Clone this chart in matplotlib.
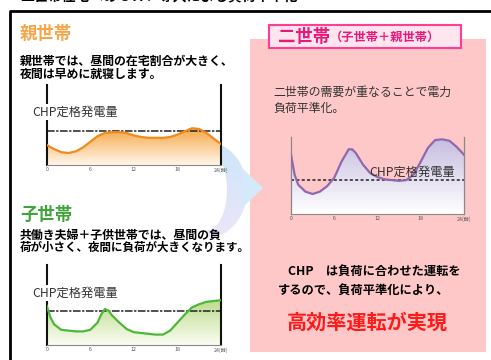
import numpy as np
import matplotlib
matplotlib.use("Agg")
import matplotlib.pyplot as plt
from matplotlib.patches import Polygon, Rectangle
from matplotlib.colors import to_rgb

plt.rcParams['font.family'] = ['Noto Sans CJK JP', 'DejaVu Sans']

W, H = 491, 360

# ---------------- data ----------------
tick_hours = [0, 6, 12, 18, 24]
tick_labels = ["0", "6", "12", "18", "24(時)"]

hours_parent = [0, 1, 2, 3, 4, 5, 6, 7, 8, 9, 10, 11, 12, 13, 14, 15, 16, 17, 18, 19, 20, 21, 22, 23, 24]
load_parent = [25, 20, 16, 15, 17, 22, 29, 36, 40, 41, 41, 40, 37, 35, 34, 34, 34, 35, 38, 42, 46, 45, 40, 33, 26]
chp_parent = 43

hours_child = [0, 0.5, 1, 2, 3, 4, 5, 6, 7, 7.5, 8, 8.5, 9, 10, 11, 12, 13, 14, 15, 16, 17, 18, 19, 20, 21, 22, 23, 24]
load_child = [49, 35, 26, 19, 18, 17, 17, 19, 28, 38, 45, 43, 37, 28, 20, 16, 15, 14, 13, 13, 18, 28, 38, 47, 51, 54, 55, 56]
chp_child = 42

hours_two = [0, 0.5, 1, 2, 3, 4, 5, 6, 7, 8, 8.5, 9, 10, 11, 12, 13, 14, 15, 16, 17, 18, 19, 20, 21, 22, 23, 24]
load_two = [77, 51, 38, 29, 26, 29, 36, 47, 68, 84, 84, 79, 64, 53, 48, 45, 44, 43, 44, 51, 68, 86, 96, 97, 95, 87, 77]
chp_two = 44

fig = plt.figure(figsize=(W / 100, H / 100), dpi=100)
fig.patch.set_facecolor('white')

# background axes in pixel coordinates
bg = fig.add_axes([0, 0, 1, 1])
bg.set_xlim(0, W)
bg.set_ylim(H, 0)
bg.axis('off')


def rect(x0, y0, x1, y1):
    return [x0 / W, 1 - y1 / H, (x1 - x0) / W, (y1 - y0) / H]


def gradient_img(c_top, c_bot, n=256):
    t = np.linspace(0, 1, n).reshape(-1, 1)
    a = np.array(to_rgb(c_top))
    b = np.array(to_rgb(c_bot))
    img = a[None, None, :] * (1 - t[:, :, None]) + b[None, None, :] * t[:, :, None]
    return img


# page title (cut off at the top edge, as in the reference)
bg.text(20, 3, "二世帯住宅へのＣＨＰ導入による負荷平準化", fontsize=10, fontweight='bold',
        va='bottom', ha='left', color='black')

# outer frame
bg.plot([10, 10, W + 5], [H + 5, 11, 11], color='black', lw=2, solid_capstyle='butt')

# pink panel
bg.add_patch(Rectangle((250, 39), 236, 313, facecolor='#FFC8C8', edgecolor='none', zorder=1))

# header box
bg.add_patch(Rectangle((269, 24.5), 192, 23.5, facecolor='#FFE6EE', edgecolor='#FF3C96', lw=1.5, zorder=2))
bg.text(278, 36.5, "二世帯", fontsize=12.5, fontweight='bold', color='#E8197A', va='center', ha='left', zorder=3)
bg.text(330, 37, "（子世帯＋親世帯）", fontsize=8.8, fontweight='bold', color='#E8197A', va='center', ha='left', zorder=3)

# curved arrow (gradient)
theta = np.linspace(-np.pi / 2, np.pi / 2, 60)
outer = np.column_stack([207 + 40 * np.cos(theta), 190 + 48 * np.sin(theta)])
inner = np.column_stack([207 + 20 * np.cos(theta[::-1]), 190 + 40 * np.sin(theta[::-1])])
cres = np.vstack([outer, inner])
cres_patch = Polygon(cres, closed=True, facecolor='none', edgecolor='none', zorder=2)
bg.add_patch(cres_patch)
im = bg.imshow(gradient_img('#CBE5FA', '#EEE6F8'), extent=[195, 265, 240, 140], aspect='auto', zorder=2)
im.set_clip_path(cres_patch)
head = Polygon([(242, 168), (263, 188), (242, 208)], closed=True, facecolor='#D4E9FA', edgecolor='none', zorder=2)
bg.add_patch(head)

# left headings & text
bg.text(20, 33.5, "親世帯", fontsize=12.5, fontweight='bold', color='#F7A548', va='center', ha='left')
bg.text(20, 61, "親世帯では、昼間の在宅割合が大きく、", fontsize=8.6, fontweight='bold', color='black', va='center', ha='left')
bg.text(20, 74, "夜間は早めに就寝します。", fontsize=8.6, fontweight='bold', color='black', va='center', ha='left')

bg.text(20, 215, "子世帯", fontsize=12.5, fontweight='bold', color='#3FA53A', va='center', ha='left')
bg.text(20, 235, "共働き夫婦＋子供世帯では、昼間の負", fontsize=8.6, fontweight='bold', color='black', va='center', ha='left')
bg.text(20, 247, "荷が小さく、夜間に負荷が大きくなります。", fontsize=8.3, fontweight='bold', color='black', va='center', ha='left')

# right texts
bg.text(273, 92, "二世帯の需要が重なることで電力", fontsize=8.6, color='#333333', va='center', ha='left', zorder=3)
bg.text(273, 108, "負荷平準化。", fontsize=8.6, color='#333333', va='center', ha='left', zorder=3)
bg.text(288, 272, "CHP　は負荷に合わせた運転を", fontsize=8.8, fontweight='bold', color='black', va='center', ha='left', zorder=3)
bg.text(278, 291, "するので、負荷平準化により、", fontsize=8.8, fontweight='bold', color='black', va='center', ha='left', zorder=3)
bg.text(287, 322, "高効率運転が実現", fontsize=14.5, fontweight='bold', color='#FF1A1A', va='center', ha='left', zorder=3)


def draw_chart(box, hours, load, chp, line_c, top_c, bot_c, label_pos, spine_c, dash_style, label_bg):
    ax = fig.add_axes(rect(*box))
    ax.set_facecolor('none')
    ax.set_xlim(0, 24)
    ax.set_ylim(0, 100)
    verts = [(hours[0], 0)] + list(zip(hours, load)) + [(hours[-1], 0)]
    patch = Polygon(verts, closed=True, facecolor='none', edgecolor='none')
    ax.add_patch(patch)
    img = ax.imshow(gradient_img(top_c, bot_c), extent=[0, 24, 0, max(load)], aspect='auto', zorder=1)
    img.set_clip_path(patch)
    ax.plot(hours, load, color=line_c, lw=1.6, zorder=3, solid_joinstyle='round')
    ax.axhline(chp, color='#222222', lw=1.1, ls=dash_style, zorder=2)
    ax.spines['top'].set_visible(False)
    ax.spines['left'].set_color(spine_c)
    ax.spines['right'].set_color(spine_c)
    ax.spines['left'].set_linewidth(1.5 if label_bg else 0.9)
    ax.spines['right'].set_linewidth(1.5 if label_bg else 0.9)
    ax.spines['bottom'].set_color('#888888')
    ax.spines['bottom'].set_linewidth(0.8)
    ax.set_yticks([])
    ax.set_xticks(tick_hours)
    ax.set_xticklabels(tick_labels)
    ax.tick_params(axis='x', length=0, pad=1.5, labelsize=3.8, labelcolor='#555555')
    lx, ly = label_pos
    kw = {}
    if label_bg:
        kw['bbox'] = dict(facecolor='white', edgecolor='none', pad=1.0)
    ax.text(lx, ly, "CHP定格発電量", fontsize=8.8, color='#333333', va='center', ha='left',
            zorder=6, transform=bg.transData, clip_on=False, **kw)
    return ax


draw_chart((46.7, 85, 221, 165), hours_parent, load_parent, chp_parent,
           '#F08A1C', '#F7A848', '#FFF6EA', (32, 112), '#111111', (0, (5, 1, 1.5, 1)), True)
draw_chart((46.7, 265, 221, 345), hours_child, load_child, chp_child,
           '#4DB838', '#BEDC8C', '#FAFDF4', (32, 293), '#111111', (0, (5, 1, 1.5, 1)), True)
draw_chart((291, 137, 464, 214), hours_two, load_two, chp_two,
           '#9068AE', '#C6BEE0', '#FFFFFF', (369, 172), '#888888', (0, (2, 1.5)), False)

fig.savefig("out.png", dpi=100)
